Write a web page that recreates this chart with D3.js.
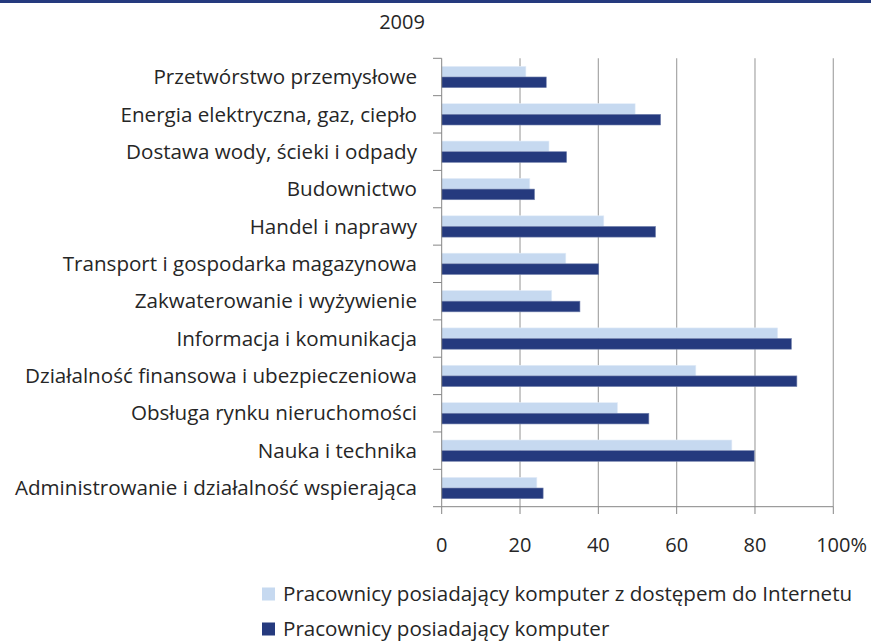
<!DOCTYPE html>
<html><head><meta charset="utf-8">
<script src="https://cdn.jsdelivr.net/npm/d3@7"></script>
<style>body{margin:0;background:#fff;} text{font-family:"Open Sans",sans-serif;fill:#262626;}</style>
</head><body>
<svg id="c" width="871" height="641"></svg>
<script>
const categories = ["Przetwórstwo przemysłowe","Energia elektryczna, gaz, ciepło","Dostawa wody, ścieki i odpady","Budownictwo","Handel i naprawy","Transport i gospodarka magazynowa","Zakwaterowanie i wyżywienie","Informacja i komunikacja","Działalność finansowa i ubezpieczeniowa","Obsługa rynku nieruchomości","Nauka i technika","Administrowanie i działalność wspierająca"];
const internetValues = [21.5,49.4,27.4,22.5,41.4,31.7,28.1,85.8,64.9,44.9,74.1,24.3];
const computerValues = [26.7,55.9,31.9,23.7,54.6,40.1,35.3,89.3,90.7,52.9,79.8,25.9];
const xTicks = [0,20,40,60,80,100];
const tickLabels = ["0","20","40","60","80","100"];
const seriesNames = ["Pracownicy posiadający komputer z dostępem do Internetu","Pracownicy posiadający komputer"];
const title = "2009";

const svg = d3.select("#c");
const colors = ["#c6d9f0","#253a7e"];
svg.append("rect").attr("x",0).attr("y",0).attr("width",871).attr("height",3).attr("fill","#253a7e");

const x = d3.scaleLinear().domain([0,100]).range([441.7,833.3]);
const y = d3.scaleBand().domain(categories).range([58.3,506.7]).paddingInner(0.43).paddingOuter(0.215);

// gridlines
svg.append("g").selectAll("line").data(xTicks.slice(1)).join("line")
  .attr("x1",d=>x(d)).attr("x2",d=>x(d)).attr("y1",58.3).attr("y2",506.7)
  .attr("stroke","#a6a6a6").attr("stroke-width",1.2);

const g = svg.append("g");
const bh = y.bandwidth()/2;
g.selectAll(".l").data(categories).join("rect")
  .attr("x",x(0)).attr("y",d=>y(d)).attr("height",bh)
  .attr("width",(d,i)=>x(internetValues[i])-x(0)).attr("fill",colors[0])
  .attr("stroke","#e4edf8").attr("stroke-width",0.6);
g.selectAll(".d").data(categories).join("rect")
  .attr("x",x(0)).attr("y",d=>y(d)+bh).attr("height",bh)
  .attr("width",(d,i)=>x(computerValues[i])-x(0)).attr("fill",colors[1])
  .attr("stroke","#7382ad").attr("stroke-width",0.6);

// y axis
const yStep = (506.7-58.3)/categories.length;
svg.append("line").attr("x1",x(0)).attr("x2",x(0)).attr("y1",58.3).attr("y2",506.7).attr("stroke","#868686");
svg.append("g").selectAll("line").data(d3.range(categories.length+1)).join("line")
  .attr("x1",433).attr("x2",x(0)).attr("y1",d=>58.3+d*yStep).attr("y2",d=>58.3+d*yStep).attr("stroke","#868686");
svg.append("g").selectAll("text").data(categories).join("text")
  .attr("x",417).attr("y",d=>y(d)+y.bandwidth()/2).attr("dy","0.35em")
  .attr("text-anchor","end").attr("font-size",20.6).text(d=>d);

// x axis
svg.append("line").attr("x1",x(0)).attr("x2",x(100)).attr("y1",506.7).attr("y2",506.7).attr("stroke","#868686");
svg.append("g").selectAll("line").data(xTicks).join("line")
  .attr("x1",d=>x(d)).attr("x2",d=>x(d)).attr("y1",506.7).attr("y2",514).attr("stroke","#868686");
const tl = svg.append("g").selectAll("text").data(xTicks).join("text")
  .attr("x",d=>x(d)).attr("y",545).attr("dy","0.35em").attr("text-anchor","middle")
  .attr("font-size",20).text((d,i)=>tickLabels[i]);
// percent sign after last tick number
const lastNode = tl.nodes()[tl.nodes().length-1];
const lw = lastNode.getComputedTextLength();
svg.append("text").attr("x",x(100)+lw/2).attr("y",545).attr("dy","0.35em").attr("font-size",20).text("%");

svg.append("text").attr("x",402).attr("y",22).attr("dy","0.35em").attr("text-anchor","middle").attr("font-size",20).text(title);

// legend
const lg = svg.append("g");
seriesNames.forEach((s,i)=>{
  const yy = 594 + i*35;
  lg.append("rect").attr("x",262).attr("y",yy-6.5).attr("width",13).attr("height",13).attr("fill",colors[i]);
  lg.append("text").attr("x",283).attr("y",yy).attr("dy","0.35em").attr("font-size",20.6).text(s);
});
</script>
</body></html>
